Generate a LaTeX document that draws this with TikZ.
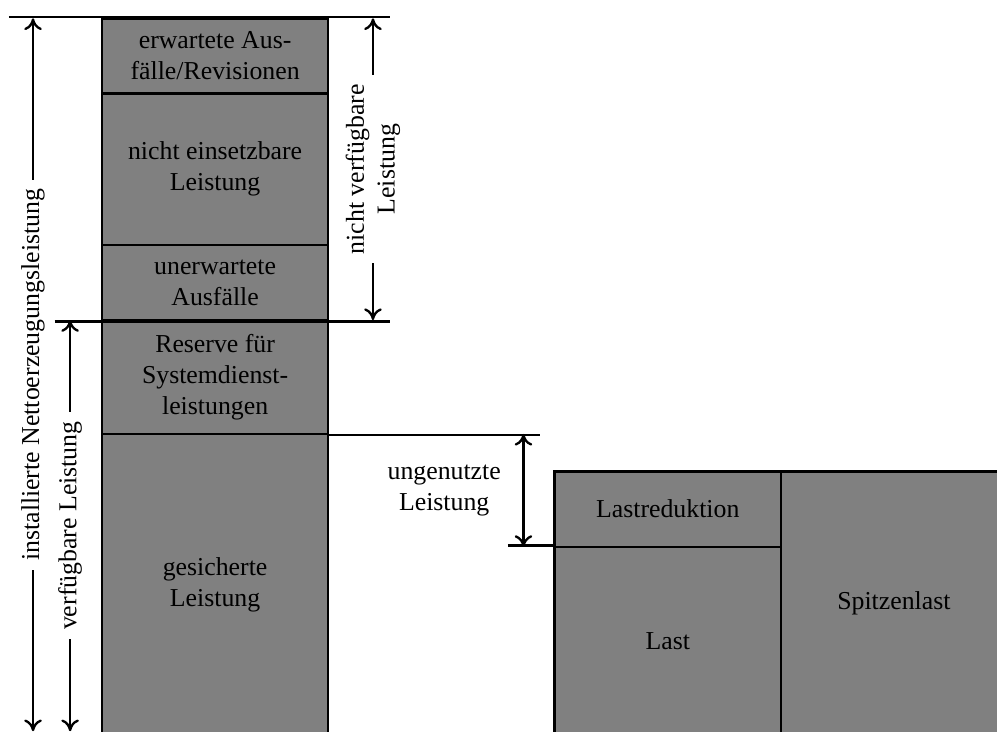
\documentclass[tikz,border=0pt]{standalone}
\usepackage{fontspec}
\setmainfont{Liberation Serif}
\usepackage{tikz}
\usetikzlibrary{positioning,calc,arrows.meta}

\begin{document}
\begin{tikzpicture}[
    every node/.style={font=\normalsize},
    blk/.style={draw=black, line width=1pt, fill=gray, minimum width=3.08cm,
                align=center, inner sep=0pt, anchor=center},
    ref/.style={black, line width=1pt},
    dim/.style={{To[length=1.6mm,width=2.4mm]}-{To[length=1.6mm,width=2.4mm]}, line width=0.9pt},
    dimlbl/.style={fill=white, inner sep=3.5pt, align=center, rotate=90},
]

% Picture frame (the blocks run past its lower and right edge)
\useasboundingbox (0,0) rectangle (13.58,9.96);
\clip (0,0) rectangle (13.58,9.96);

% Power column on the left
\node[blk, minimum height=1.02cm] (ea) at (2.93,9.20) {erwartete Aus-\\fälle/Revisionen};
\node[blk, minimum height=2.07cm] (ne) at (2.93,7.655) {nicht einsetzbare\\Leistung};
\node[blk, minimum height=1.02cm] (ua) at (2.93,6.11) {unerwartete\\Ausfälle};
\node[blk, minimum height=1.55cm] (rs) at (2.93,4.825) {Reserve für\\Systemdienst-\\leistungen};
\node[blk, minimum height=4.11cm] (gs) at (2.93,1.995) {gesicherte\\Leistung};

% Load blocks on the right
\node[blk, minimum height=1.03cm] (lr) at (9.095,3.025) {Lastreduktion};
\node[blk, minimum height=2.57cm] (la) at (9.095,1.225) {Last};
\node[blk, minimum height=3.60cm] (sp) at (12.175,1.74) {Spitzenlast};

% Reference lines
\draw[ref] ([xshift=-1.25cm]ea.north west) -- ([xshift=0.82cm]ea.north east);
\draw[ref] ([xshift=-0.63cm]ua.south west) -- ([xshift=0.82cm]ua.south east);
\draw[ref] (rs.south east) -- ++(2.87,0);
\draw[ref] ([xshift=-0.62cm]la.north west) -- (la.north west);

% Ends of the dimension arrows
\coordinate (inT) at (0.45,9.71);
\coordinate (inB) at (0.45,0);
\coordinate (vfT) at (0.955,5.60);
\coordinate (vfB) at (0.955,0);
\coordinate (nvT) at (5.08,9.71);
\coordinate (nvB) at (5.08,5.60);
\coordinate (unT) at (7.13,4.05);
\coordinate (unB) at (7.13,2.51);

% Dimension arrows
\draw[dim] (inT) -- (inB) node[midway, dimlbl] {installierte Nettoerzeugungsleistung};
\draw[dim] (vfT) -- (vfB) node[midway, dimlbl] {verfügbare Leistung};
\draw[dim] (nvT) -- (nvB) node[midway, dimlbl] {nicht verfügbare\\Leistung};
\draw[dim] (unT) -- (unB) node[midway, left=5pt, align=center] {ungenutzte\\Leistung};

\end{tikzpicture}
\end{document}
